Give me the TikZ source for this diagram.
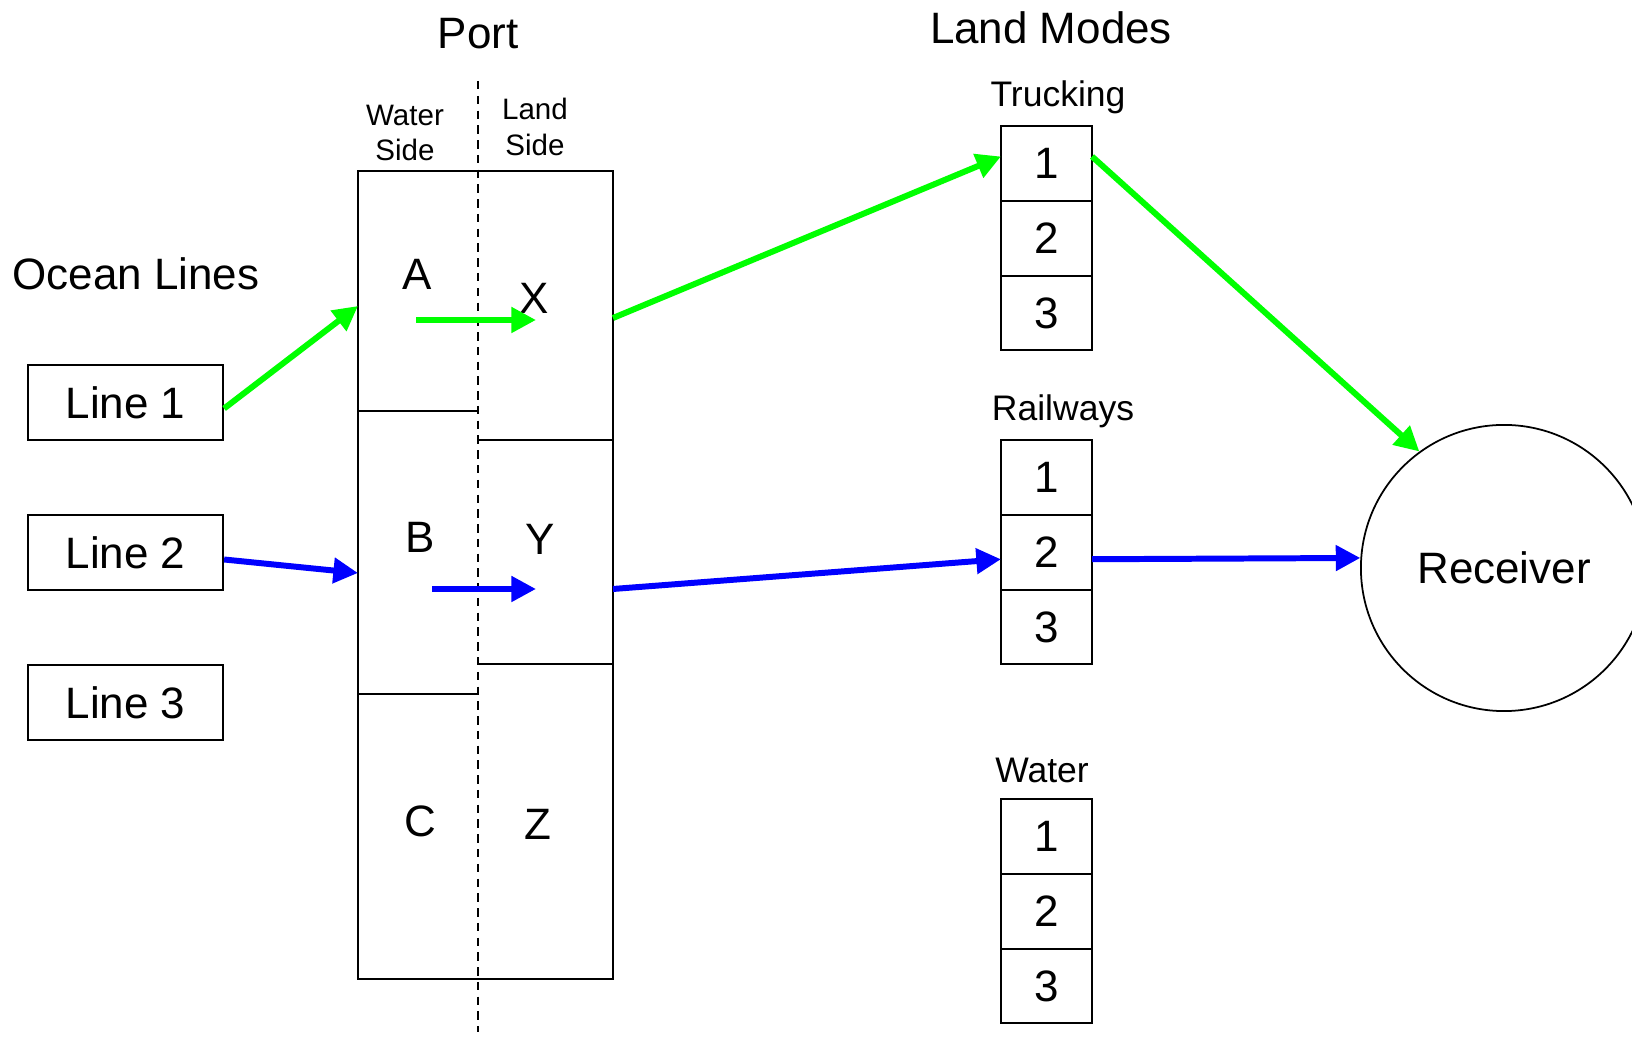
\documentclass[tikz,border=0pt]{standalone}
\usepackage{fontspec}
\setmainfont{Liberation Sans}
\usetikzlibrary{positioning}
\usetikzlibrary{arrows.meta}

\tikzset{
  big/.style={font=\fontsize{12.5}{15}\selectfont},
  linebox/.style={draw, line width=0.6pt, minimum width=1.95cm, minimum height=0.75cm, inner sep=0pt, big},
  cellbox/.style={draw, line width=0.6pt, minimum width=0.91cm, minimum height=0.747cm, inner sep=0pt, outer sep=0pt, big},
  greenarrow/.style={draw=green, line width=1.7pt, -{Triangle[length=7pt,width=7pt]}},
  bluearrow/.style={draw=blue, line width=1.7pt, -{Triangle[length=7pt,width=7pt]}}
}

\begin{document}
\begin{tikzpicture}[x=0.01cm, y=-0.01cm]

\clip (0,0) rectangle (1632,1037);

% titles
{
\node[big] (porttitle) at (478,34) {Port};
\node[big] (landtitle) at (1051,28) {Land Modes};
\node[big] (oceantitle) at (136,274) {Ocean Lines};
\node[align=center, font=\fontsize{8.4}{10}\selectfont] (waterside) at (405,133) {Water\\Side};
\node[align=center, font=\fontsize{8.4}{10}\selectfont] (landside) at (535,127) {Land\\Side};
}

% ocean lines
\node[linebox] (line1) at (125.5,402.5) {Line 1};
\node[linebox] (line2) at (125.5,552.5) {Line 2};
\node[linebox] (line3) at (125.5,702.5) {Line 3};

% port
{
\draw[line width=0.6pt] (358,171) rectangle (613,979);
\draw[line width=0.6pt] (358,411)--(478,411);
\draw[line width=0.6pt] (358,694)--(478,694);
\draw[line width=0.6pt] (478,440)--(613,440);
\draw[line width=0.6pt] (478,664)--(613,664);
\draw[line width=0.5pt, dash pattern=on 2.4pt off 1.8pt] (478,81)--(478,1032);

\node[big] (A) at (417,274) {A};
\node[big] (X) at (534,298) {X};
\node[big] (B) at (420,537) {B};
\node[big] (Y) at (540,539) {Y};
\node[big] (C) at (420,821) {C};
\node[big] (Z) at (538,824) {Z};

\coordinate (portinA) at (358,306);
\coordinate (portinB) at (358,573);
\coordinate (moveA) at (416,320);
\coordinate (moveX) at (536,320);
\coordinate (moveB) at (432,589);
\coordinate (moveY) at (536,589);
\coordinate (portoutX) at (613,318);
\coordinate (portoutY) at (613,589);
}

% land modes
{
\node[font=\fontsize{10.1}{12}\selectfont] (trucking) at (1058,97) {Trucking};
\node[cellbox] (truck1) at (1046.5,163.5) {1};
\node[cellbox, below=0pt of truck1] (truck2) {2};
\node[cellbox, below=0pt of truck2] (truck3) {3};

\node[font=\fontsize{10.1}{12}\selectfont] (railways) at (1063,411) {Railways};
\node[cellbox] (rail1) at (1046.5,477.5) {1};
\node[cellbox, below=0pt of rail1] (rail2) {2};
\node[cellbox, below=0pt of rail2] (rail3) {3};

\node[font=\fontsize{10.1}{12}\selectfont] (water) at (1042,770) {Water};
\node[cellbox] (water1) at (1046.5,836.5) {1};
\node[cellbox, below=0pt of water1] (water2) {2};
\node[cellbox, below=0pt of water2] (water3) {3};
}

% receiver
\node[draw, circle, line width=0.5pt, minimum size=2.86cm, inner sep=0pt, big] (recv) at (1504,568) {Receiver};

% green route
\draw[greenarrow] ([yshift=-0.06cm]line1.east) -- (portinA);
\draw[greenarrow] (moveA) -- (moveX);
\draw[greenarrow] (portoutX) -- ([yshift=0.07cm]truck1.west);
\draw[greenarrow] ([yshift=0.07cm]truck1.east) -- (recv.126);

% blue route
\draw[bluearrow] ([yshift=-0.07cm]line2.east) -- (portinB);
\draw[bluearrow] (moveB) -- (moveY);
\draw[bluearrow] (portoutY) -- ([yshift=-0.07cm]rail2.west);
\draw[bluearrow] ([yshift=-0.07cm]rail2.east) -- (recv.176);

\end{tikzpicture}
\end{document}
